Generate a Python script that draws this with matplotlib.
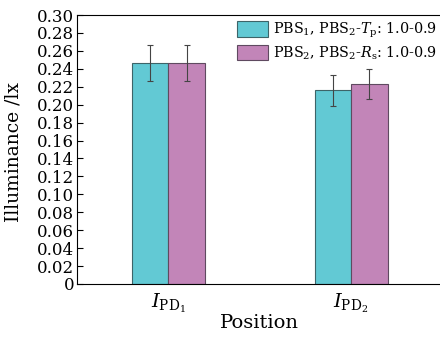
import matplotlib
matplotlib.use('Agg')
import matplotlib.pyplot as plt
import numpy as np

# data
positions = [r'$I_{\mathrm{PD}_1}$', r'$I_{\mathrm{PD}_2}$']
series_names = [r'PBS$_1$, PBS$_2$-$T_\mathrm{p}$: 1.0-0.9',
                r'PBS$_2$, PBS$_2$-$R_\mathrm{s}$: 1.0-0.9']
tp_vals = [0.246, 0.216]
tp_err = [0.020, 0.017]
rs_vals = [0.246, 0.223]
rs_err = [0.020, 0.017]

plt.rcParams['font.family'] = 'DejaVu Serif'
plt.rcParams['mathtext.fontset'] = 'dejavuserif'

fig = plt.figure(figsize=(4.4, 3.37), dpi=100)
ax = fig.add_axes([77 / 440, 53 / 337, 365.5 / 440, 269 / 337])

x = np.arange(1, len(positions) + 1)
w = 0.2
ekw = dict(ecolor='#444444', elinewidth=0.8, capsize=2.5, capthick=0.8)
ax.bar(x - w / 2, tp_vals, w, yerr=tp_err, color='#62c9d4', edgecolor='#3d6468',
       linewidth=0.8, label=series_names[0], error_kw=ekw)
ax.bar(x + w / 2, rs_vals, w, yerr=rs_err, color='#c285b8', edgecolor='#5f4a60',
       linewidth=0.8, label=series_names[1], error_kw=ekw)

ax.set_xlim(0.5, 2.5)
ax.set_ylim(0, 0.30)
ax.spines['right'].set_visible(False)
ax.set_yticks(np.arange(0, 0.301, 0.02))
ax.set_yticklabels(['0'] + [f'{v:.2f}' for v in np.arange(0.02, 0.301, 0.02)])
ax.set_xticks(x)
ax.set_xticklabels(positions, fontsize=14)
ax.tick_params(axis='y', direction='in', length=4, labelsize=12, pad=2)
ax.tick_params(axis='x', length=0, pad=6)
ax.set_ylabel('Illuminance /lx', fontsize=13.5)
ax.yaxis.set_label_coords(-0.148, 0.49)
ax.set_xlabel('Position', fontsize=14, labelpad=-1)

ax.legend(loc='upper right', bbox_to_anchor=(1.0, 1.0),
          frameon=False, fontsize=10.3, handlelength=2.2, handleheight=1.3,
          handletextpad=0.3, labelspacing=0.3, borderaxespad=0.0)

fig.savefig('out.png', dpi=100)
